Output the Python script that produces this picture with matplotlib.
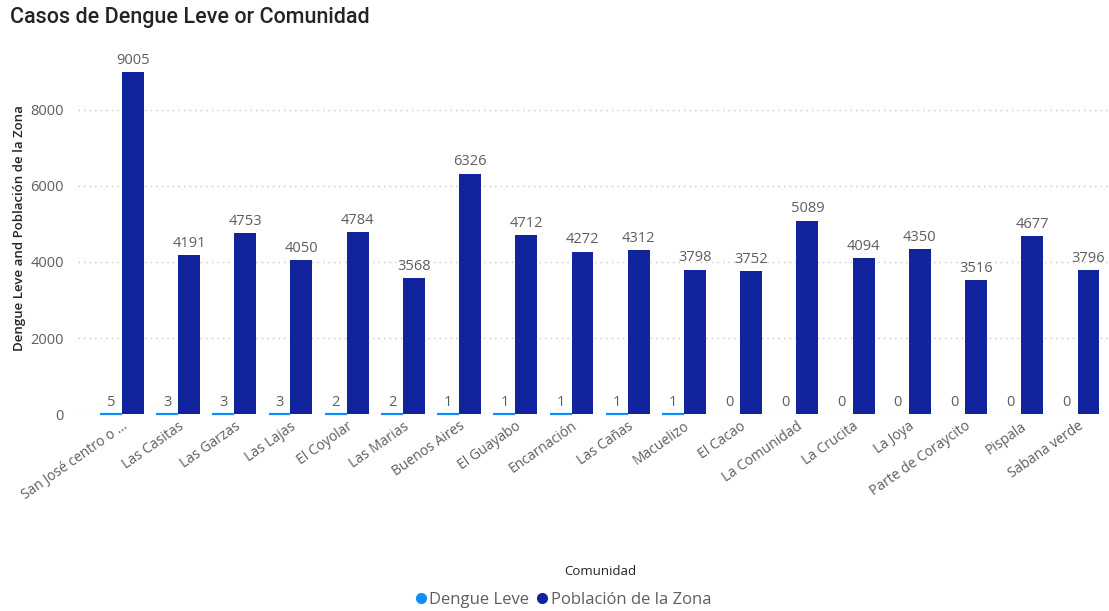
import numpy as np
import matplotlib.pyplot as plt

comunidades = ["San José centro o ...", "Las Casitas", "Las Garzas", "Las Lajas", "El Coyolar",
               "Las Marias", "Buenos Aires", "El Guayabo", "Encarnación", "Las Cañas",
               "Macuelizo", "El Cacao", "La Comunidad", "La Crucita", "La Joya",
               "Parte de Coraycito", "Pispala", "Sabana verde"]
dengue_leve = [5, 3, 3, 3, 2, 2, 1, 1, 1, 1, 1, 0, 0, 0, 0, 0, 0, 0]
poblacion = [9005, 4191, 4753, 4050, 4784, 3568, 6326, 4712, 4272, 4312,
             3798, 3752, 5089, 4094, 4350, 3516, 4677, 3796]

light = "#118DFF"
dark = "#12239E"
gray = "#605E5C"

plt.rcParams['font.family'] = ['Open Sans', 'DejaVu Sans']

fig = plt.figure(figsize=(11.09, 6.11), dpi=100)
ax = fig.add_axes([0.0703, 0.3224, 0.9297, 0.6096])

x = np.arange(len(comunidades))
w = 0.39
ax.bar(x - w / 2, dengue_leve, w, color=light, label="Dengue Leve", zorder=3)
ax.bar(x + w / 2, poblacion, w, color=dark, label="Población de la Zona", zorder=3)

# light series is tiny next to the population, give it a visible floor line
for i, v in enumerate(dengue_leve):
    if v > 0:
        ax.plot([x[i] - w, x[i]], [0, 0], color=light, lw=1.6, solid_capstyle='butt',
                zorder=2.5, clip_on=False)

for i, v in enumerate(dengue_leve):
    ax.annotate(str(v), (x[i] - w / 2, v), xytext=(0, 3), textcoords='offset points',
                ha='center', va='bottom', fontsize=10.5, color=gray)
for i, v in enumerate(poblacion):
    ax.annotate(str(v), (x[i] + w / 2, v), xytext=(0, 3), textcoords='offset points',
                ha='center', va='bottom', fontsize=10.5, color=gray)

ax.set_xlim(-0.78, 17.56)
ax.set_ylim(0, 9800)
ax.set_yticks([0, 2000, 4000, 6000, 8000])
ax.yaxis.grid(True, linestyle=(0, (1, 3)), color="#C8C6C4", lw=1)
ax.set_axisbelow(True)
for s in ax.spines.values():
    s.set_visible(False)
ax.tick_params(axis='both', length=0, colors=gray, labelsize=10.5)
ax.tick_params(axis='y', pad=10)
ax.set_xticks(x)
ax.set_xticklabels(comunidades, rotation=35, ha='right', rotation_mode='anchor', fontsize=10)

ax.set_ylabel("Dengue Leve and Población de la Zona", fontsize=9.5, color="#252423",
              fontweight='semibold')
ax.yaxis.set_label_coords(-0.05, 0.5)

fig.text(0.009, 0.972, "Casos de Dengue Leve or Comunidad", fontsize=15.5, color="#252423",
         family=['Roboto', 'DejaVu Sans'], fontweight='medium', va='center', ha='left')
fig.text(0.541, 0.064, "Comunidad", fontsize=9.5, color="#252423", ha='center', va='center',
         fontweight='medium')

fig.legend(handles=[
    plt.Line2D([], [], marker='o', ls='', color=light, markersize=7),
    plt.Line2D([], [], marker='o', ls='', color=dark, markersize=7)],
    labels=["Dengue Leve", "Población de la Zona"], loc='center', bbox_to_anchor=(0.508, 0.018),
    ncol=2, frameon=False, fontsize=12, handlelength=0.6, handletextpad=0.2,
    columnspacing=0.5, labelcolor=gray)

fig.savefig("out.png", dpi=100)
